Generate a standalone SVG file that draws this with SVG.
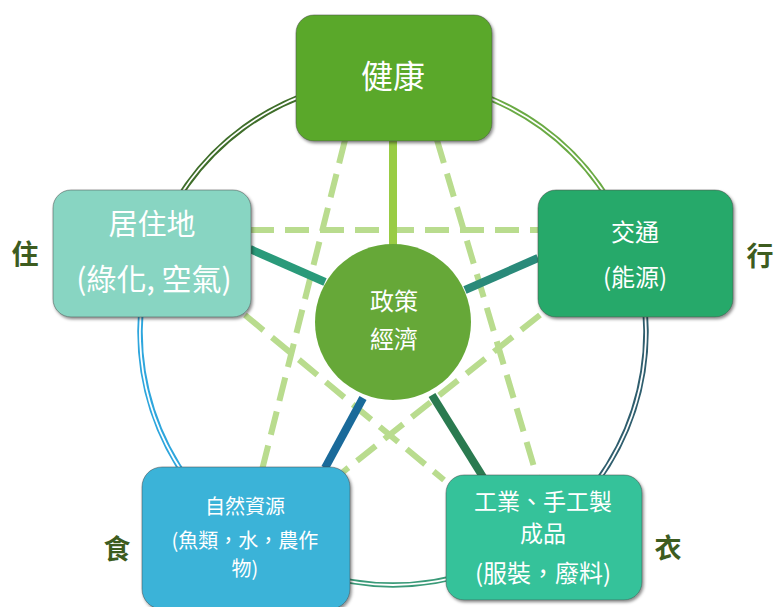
<svg xmlns="http://www.w3.org/2000/svg" width="777" height="607" viewBox="0 0 777 607">
<defs>
<filter id="sh" x="-10%" y="-10%" width="130%" height="130%">
<feDropShadow dx="1.5" dy="2" stdDeviation="1.5" flood-color="#000" flood-opacity="0.45"/>
</filter>
</defs>
<style>
.ring{fill:none;stroke-width:5.5}
.ringin{fill:none;stroke:#fff;stroke-width:1.8}
.dash{fill:none;stroke:#b9dc8e;stroke-width:6;stroke-dasharray:24 11}
.spoke{fill:none;stroke-width:8}
.box{stroke:#4a4a4a;stroke-opacity:0.5;stroke-width:1;filter:url(#sh)}
.t{font-family:"Noto Sans CJK TC","Noto Sans CJK SC",sans-serif;fill:#fff;text-anchor:middle}
.o{font-family:"Noto Sans CJK TC","Noto Sans CJK SC",sans-serif;fill:#3d5c1f;font-weight:bold;font-size:27px;text-anchor:middle}
</style>
<rect width="777" height="607" fill="#fff"/>
<g id="connectors">
<path class="ring" stroke="#6aaa44" d="M393,79 A253,253 0 0 1 633.6,253.8"/>
<path class="ring" stroke="#2f5e6e" d="M633.6,253.8 A253,253 0 0 1 541.7,536.7"/>
<path class="ring" stroke="#3a9a78" d="M541.7,536.7 A253,253 0 0 1 244.3,536.7"/>
<path class="ring" stroke="#2ea6dd" d="M244.3,536.7 A253,253 0 0 1 152.4,253.8"/>
<path class="ring" stroke="#3f6e2a" d="M152.4,253.8 A253,253 0 0 1 393,79"/>
<path class="ringin" d="M393,79 A253,253 0 1 1 392.9,79"/>
<line class="dash" x1="345" y1="140" x2="262" y2="470"/>
<line class="dash" x1="437" y1="140" x2="537" y2="477"/>
<line class="dash" x1="250" y1="230" x2="538" y2="230"/>
<line class="dash" x1="245" y1="315" x2="444" y2="480"/>
<line class="dash" x1="540" y1="315" x2="343" y2="472"/>
<line class="spoke" stroke="#99cc44" x1="393" y1="140" x2="393" y2="250"/>
<line class="spoke" stroke="#2a9a7a" x1="250" y1="249" x2="325" y2="282"/>
<line class="spoke" stroke="#2a8a7a" x1="538" y1="258" x2="465" y2="290"/>
<line class="spoke" stroke="#1a6a9a" x1="363" y1="398" x2="325" y2="468"/>
<line class="spoke" stroke="#2a7a50" x1="432" y1="395" x2="483" y2="477"/>
</g>
<g id="center">
<circle cx="393" cy="322" r="78" fill="#66a838"/>
<text class="t" x="394" y="310" font-size="24">政策</text>
<text class="t" x="394" y="348" font-size="24">經濟</text>
</g>
<g id="node-health">
<rect class="box" x="296" y="15" width="196" height="126" rx="18" fill="#5aa82a"/>
<text class="t" x="393" y="88" font-size="32">健康</text>
</g>
<g id="node-residence">
<rect class="box" x="53" y="190" width="198" height="127" rx="18" fill="#88d5c2"/>
<text class="t" x="152" y="235" font-size="29">居住地</text>
<text class="t" x="154" y="290" font-size="30">(綠化, 空氣)</text>
</g>
<g id="node-transport">
<rect class="box" x="538" y="190" width="195" height="127" rx="18" fill="#28a96a"/>
<text class="t" x="635" y="241" font-size="24">交通</text>
<text class="t" x="635" y="286" font-size="24">(能源)</text>
</g>
<g id="node-resources">
<rect class="box" x="142" y="467" width="208" height="142" rx="20" fill="#3bb3d8"/>
<text class="t" x="245" y="514" font-size="20">自然資源</text>
<text class="t" x="245" y="548" font-size="20">(魚類，水，農作</text>
<text class="t" x="245" y="576" font-size="20">物)</text>
</g>
<g id="node-industry">
<rect class="box" x="446" y="475" width="196" height="125" rx="18" fill="#34c29a"/>
<text class="t" x="543" y="510" font-size="23">工業、手工製</text>
<text class="t" x="543" y="542" font-size="23">成品</text>
<text class="t" x="543" y="582" font-size="24">(服裝，廢料)</text>
</g>
<g id="labels">
<text class="o" x="25" y="264">住</text>
<text class="o" x="760" y="266">行</text>
<text class="o" x="117" y="559">食</text>
<text class="o" x="668" y="558">衣</text>
</g>
</svg>
